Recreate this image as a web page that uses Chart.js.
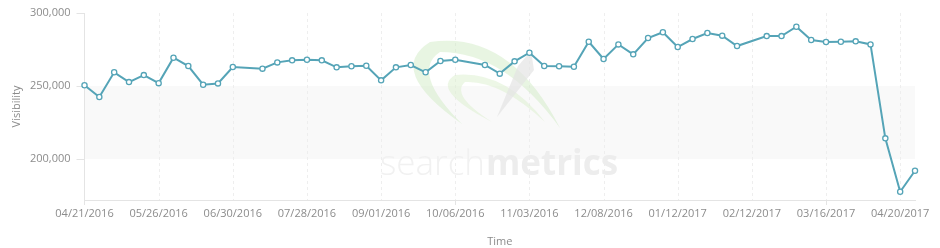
<!DOCTYPE html>
<html>
<head>
<meta charset="utf-8">
<script src="https://cdn.jsdelivr.net/npm/chart.js@4/dist/chart.umd.min.js"></script>
<style>
html,body{margin:0;padding:0;background:#fff;}
#wrap{width:940px;height:248px;position:relative;}
</style>
</head>
<body>
<div id="wrap"><canvas id="c" width="940" height="248"></canvas></div>
<script>
const dates = [
 "04/21/2016","04/28/2016","05/05/2016","05/12/2016","05/19/2016",
 "05/26/2016","06/02/2016","06/09/2016","06/16/2016","06/23/2016",
 "06/30/2016","07/03/2016","07/07/2016","07/14/2016","07/21/2016",
 "07/28/2016","08/04/2016","08/11/2016","08/18/2016","08/25/2016",
 "09/01/2016","09/08/2016","09/15/2016","09/22/2016","09/29/2016",
 "10/06/2016","10/09/2016","10/13/2016","10/20/2016","10/27/2016",
 "11/03/2016","11/10/2016","11/17/2016","11/24/2016","12/01/2016",
 "12/08/2016","12/15/2016","12/22/2016","12/29/2016","01/05/2017",
 "01/12/2017","01/19/2017","01/26/2017","02/02/2017","02/09/2017",
 "02/12/2017","02/16/2017","02/23/2017","03/02/2017","03/09/2017",
 "03/16/2017","03/23/2017","03/30/2017","04/06/2017","04/13/2017",
 "04/20/2017","04/27/2017"
];
const visibility = [
 250500,242500,259400,252700,257500,
 252000,269400,263700,250900,251800,
 263000,null,261900,266200,267600,
 268000,267600,262800,263500,263900,
 253900,262800,264400,259400,267100,
 268000,null,264400,258500,266900,
 272800,263700,263500,263200,280300,
 268500,278500,271700,282900,286800,
 276700,282200,286300,284500,277400,
 null,284200,284200,290600,281500,
 280100,280300,280600,278500,214200,
 177600,192000
];
const yTicks = [200000, 250000, 300000];
const bandRange = [200000, 250000];
const labelEvery = 5;

const FONT = "'Open Sans', 'DejaVu Sans', sans-serif";
const TXT = '#8c8c8c';

const bgPlugin = {
  id: 'bg',
  beforeDraw(chart) {
    const {ctx, chartArea: a, scales: {x, y}} = chart;
    ctx.save();
    const yt = y.getPixelForValue(bandRange[1]);
    const yb = y.getPixelForValue(bandRange[0]);
    ctx.fillStyle = '#f9f9f9';
    ctx.fillRect(a.left, yt, a.right - a.left, yb - yt);
    // dotted vertical grid at labelled ticks
    ctx.strokeStyle = '#eeeeee';
    ctx.lineWidth = 1;
    ctx.setLineDash([3, 3]);
    for (let i = labelEvery; i < dates.length; i += labelEvery) {
      const px = Math.round(x.getPixelForValue(i)) + 0.5;
      ctx.beginPath();
      ctx.moveTo(px, a.top);
      ctx.lineTo(px, a.bottom);
      ctx.stroke();
    }
    ctx.setLineDash([]);
    // swoosh logo
    ctx.fillStyle = 'rgba(205,232,190,0.45)';
    ctx.beginPath();
    ctx.moveTo(462, 124);
    ctx.quadraticCurveTo(385, 70, 430, 42);
    ctx.quadraticCurveTo(510, 30, 560, 128);
    ctx.quadraticCurveTo(505, 52, 440, 52);
    ctx.quadraticCurveTo(410, 72, 462, 124);
    ctx.fill();
    ctx.fillStyle = 'rgba(215,238,200,0.45)';
    ctx.beginPath();
    ctx.moveTo(492, 122);
    ctx.quadraticCurveTo(430, 90, 455, 75);
    ctx.quadraticCurveTo(505, 70, 545, 122);
    ctx.quadraticCurveTo(500, 80, 465, 82);
    ctx.quadraticCurveTo(450, 95, 492, 122);
    ctx.fill();
    ctx.fillStyle = 'rgba(228,228,228,0.7)';
    ctx.beginPath();
    ctx.moveTo(497, 117);
    ctx.lineTo(518, 66);
    ctx.lineTo(531, 51);
    ctx.lineTo(534, 70);
    ctx.closePath();
    ctx.fill();
    // wordmark
    ctx.textBaseline = 'alphabetic';
    ctx.textAlign = 'left';
    ctx.fillStyle = '#f1f1f1';
    ctx.font = "300 35px " + FONT;
    ctx.fillText('search', 380, 175);
    const w = ctx.measureText('search').width;
    ctx.fillStyle = '#ededed';
    ctx.font = "700 35px " + FONT;
    ctx.fillText('metrics', 380 + w + 1, 175);
    ctx.restore();
  }
};

new Chart(document.getElementById('c'), {
  type: 'line',
  data: {
    labels: dates,
    datasets: [{
      label: 'Visibility',
      data: visibility,
      borderColor: '#55a4b7',
      borderWidth: 2,
      pointRadius: 2.6,
      pointBorderWidth: 1.3,
      pointBackgroundColor: '#ffffff',
      pointBorderColor: '#55a4b7',
      tension: 0,
      spanGaps: true
    }]
  },
  options: {
    responsive: false,
    animation: false,
    events: [],
    layout: {padding: {top: 13, right: 25, left: 0, bottom: 0}},
    plugins: {legend: {display: false}, tooltip: {enabled: false}},
    scales: {
      x: {
        type: 'category',
        offset: false,
        afterFit(s) { s.height = 48; },
        grid: {
          drawOnChartArea: false,
          tickColor: (c) => (c.index % labelEvery === 0) ? '#e4e4e4' : 'rgba(0,0,0,0)',
          tickLength: 5,
          lineWidth: 1
        },
        border: {color: '#e4e4e4', width: 1},
        ticks: {
          autoSkip: false,
          maxRotation: 0,
          minRotation: 0,
          padding: 2,
          color: TXT,
          font: {family: FONT, size: 11},
          callback(v, i) { return i % labelEvery === 0 ? this.getLabelForValue(v) : null; }
        },
        title: {
          display: true,
          text: 'Time',
          color: TXT,
          font: {family: FONT, size: 11},
          padding: {top: 3, bottom: 0}
        }
      },
      y: {
        min: 172000,
        max: 300000,
        afterFit(s) { s.width = 84.5; },
        afterBuildTicks(s) { s.ticks = yTicks.map(v => ({value: v})); },
        border: {color: '#e4e4e4', width: 1},
        grid: {
          drawOnChartArea: false,
          tickLength: 8,
          tickColor: '#e4e4e4'
        },
        ticks: {
          padding: 6,
          color: TXT,
          font: {family: FONT, size: 11},
          callback(v) { return v.toLocaleString('en-US'); }
        },
        title: {
          display: true,
          text: 'Visibility',
          color: TXT,
          font: {family: FONT, size: 11},
          padding: {top: 10, bottom: 0}
        }
      }
    }
  },
  plugins: [bgPlugin]
});
</script>
</body>
</html>
